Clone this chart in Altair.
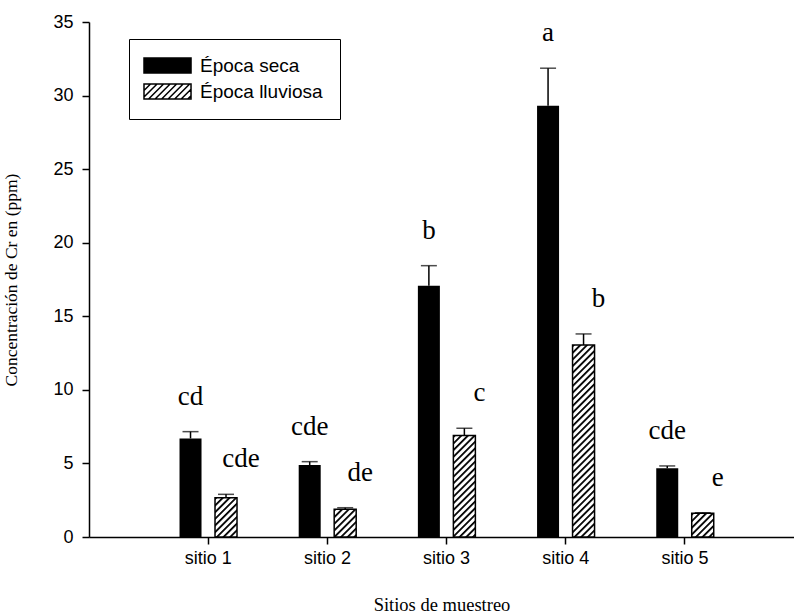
import base64

import altair as alt
import pandas as pd

# Concentración media de Cr (ppm) por sitio y época, con su error estándar
sitios = ["sitio 1", "sitio 2", "sitio 3", "sitio 4", "sitio 5"]
epocas = ["Época seca", "Época lluviosa"]
media_seca = [6.70, 4.89, 17.08, 29.30, 4.67]
error_seca = [0.46, 0.23, 1.36, 2.56, 0.16]
media_lluviosa = [2.67, 1.88, 6.89, 13.05, 1.61]
error_lluviosa = [0.23, 0.11, 0.50, 0.75, 0.04]
letras_seca = ["cd", "cde", "b", "a", "cde"]
letras_lluviosa = ["cde", "de", "c", "b", "e"]

filas = []
for i, sitio in enumerate(sitios):
    filas.append(dict(sitio=sitio, epoca=epocas[0], media=media_seca[i],
                      error=error_seca[i], letra=letras_seca[i]))
    filas.append(dict(sitio=sitio, epoca=epocas[1], media=media_lluviosa[i],
                      error=error_lluviosa[i], letra=letras_lluviosa[i]))
df = pd.DataFrame(filas)
df["superior"] = df["media"] + df["error"]

# Relleno rayado (diagonal) para las barras de la época lluviosa
RAYADO = (
    "<svg xmlns='http://www.w3.org/2000/svg' width='100%' height='100%'>"
    "<defs><pattern id='r' width='4.7' height='4.7' patternUnits='userSpaceOnUse' "
    "patternTransform='rotate(45)'>"
    "<rect x='0' y='0' width='1.8' height='4.7' fill='black'/></pattern></defs>"
    "<rect width='100%' height='100%' fill='white'/>"
    "<rect width='100%' height='100%' fill='url(#r)'/></svg>"
)
url_rayado = "data:image/svg+xml;base64," + base64.b64encode(RAYADO.encode()).decode()

# Símbolos de la leyenda: rectángulo lleno y rectángulo rayado
X0, X1 = -1.0, 5.27
rect = f"M{X0},-1L{X1},-1L{X1},1L{X0},1Z"
rayas = []
paso = 0.87
a = X0 - 2.0
while a < X1:
    # segmento de (a, 1) a (a + 2, -1), recortado al rectángulo
    t0 = max(0.0, (X0 - a) / 2.0)
    t1 = min(1.0, (X1 - a) / 2.0)
    if t1 > t0:
        xa, ya = a + 2 * t0, 1 - 2 * t0
        xb, yb = a + 2 * t1, 1 - 2 * t1
        rayas.append(f"M{xa:.3f},{ya:.3f}L{xb:.3f},{yb:.3f}")
    a += paso
simbolo_seca = rect
simbolo_lluviosa = rect + "".join(rayas)

SANS = "Liberation Sans"
SERIF = "Liberation Serif"

escala_y = alt.Scale(domain=[0, 35], nice=False)
eje_y = alt.Axis(
    title="Concentración de Cr en (ppm)", values=list(range(0, 36, 5)),
    grid=False, titleFont=SERIF, titleFontSize=17.5, titleFontWeight="normal",
    titlePadding=32,
)
eje_x = alt.Axis(
    title="Sitios de muestreo", labelAngle=0, grid=False,
    titleFont=SERIF, titleFontSize=18.5, titleFontWeight="normal", titlePadding=28,
)

x = alt.X("sitio:N", sort=sitios, axis=eje_x,
          scale=alt.Scale(domain=sitios, paddingInner=0, paddingOuter=0.4577, align=0.547))
x_off = alt.XOffset("epoca:N", sort=epocas,
                    scale=alt.Scale(domain=epocas, paddingInner=0.38, paddingOuter=0.869))

base = alt.Chart(df).encode(x=x, xOffset=x_off)
seca = base.transform_filter(alt.datum.epoca == epocas[0])
lluviosa = base.transform_filter(alt.datum.epoca == epocas[1])

barras_seca = seca.mark_bar(color="black").encode(
    y=alt.Y("media:Q", scale=escala_y, axis=eje_y)
)
barras_rayadas = lluviosa.mark_image(
    url=url_rayado, width=22, aspect=False, align="center", baseline="top"
).encode(
    y=alt.Y("media:Q", scale=escala_y, axis=eje_y),
    y2=alt.datum(0),
)
contorno = lluviosa.mark_bar(fillOpacity=0, stroke="black", strokeWidth=1.5).encode(
    y=alt.Y("media:Q", scale=escala_y, axis=eje_y)
)
error = base.mark_rule(color="black", strokeWidth=1.5).encode(
    y=alt.Y("media:Q", scale=escala_y, axis=eje_y),
    y2="superior:Q",
)
tapa = base.mark_tick(color="black", thickness=1.5, size=16, orient="horizontal").encode(
    y=alt.Y("superior:Q", scale=escala_y, axis=eje_y)
)
letras_s = seca.mark_text(font=SERIF, fontSize=27, color="black", dy=-27,
                          baseline="alphabetic").encode(
    y=alt.Y("superior:Q", scale=escala_y, axis=eje_y), text="letra:N"
)
letras_l = lluviosa.mark_text(font=SERIF, fontSize=27, color="black", dy=-27, dx=15,
                              baseline="alphabetic").encode(
    y=alt.Y("superior:Q", scale=escala_y, axis=eje_y), text="letra:N"
)

# Leyenda: un solo canal de relleno; la forma de cada símbolo depende de su época
forma_simbolo = alt.expr(
    f"datum.value == '{epocas[0]}' ? '{simbolo_seca}' : '{simbolo_lluviosa}'"
)
leyenda = alt.Legend(
    title=None, orient="none", legendX=40, legendY=17, strokeColor="black",
    padding=17, symbolOffset=-4, labelFont=SANS, labelFontSize=19,
    labelColor="black", labelOffset=39,
    labelExpr="datum.label + '\u00a0\u00a0'", symbolSize=225,
    symbolStrokeColor="black", symbolStrokeWidth=1.5, symbolOpacity=1,
    symbolType=forma_simbolo, rowPadding=5,
)
capa_leyenda = alt.Chart(df).transform_filter("false").mark_point(
    filled=True, opacity=1, stroke="black", strokeWidth=1.5
).encode(
    fill=alt.Fill("epoca:N", sort=epocas, legend=leyenda,
                  scale=alt.Scale(domain=epocas, range=["black", "white"])),
)

chart = alt.layer(
    barras_seca, barras_rayadas, contorno, error, tapa, letras_s, letras_l, capa_leyenda
).properties(
    width=705, height=515,
    autosize=alt.AutoSizeParams(type="none"),
    padding={"left": 89, "top": 22, "right": 0, "bottom": 78},
    background="white",
).configure_view(stroke=None).configure_axis(
    domainColor="black", domainWidth=1.5, tickColor="black", tickWidth=1.5,
    tickSize=7, labelFont=SANS, labelFontSize=18, labelColor="black",
    titleColor="black",
).configure_axisY(labelPadding=9).configure_axisX(labelPadding=5)

chart.save("out.html", embed_options={"renderer": "svg", "actions": False})
